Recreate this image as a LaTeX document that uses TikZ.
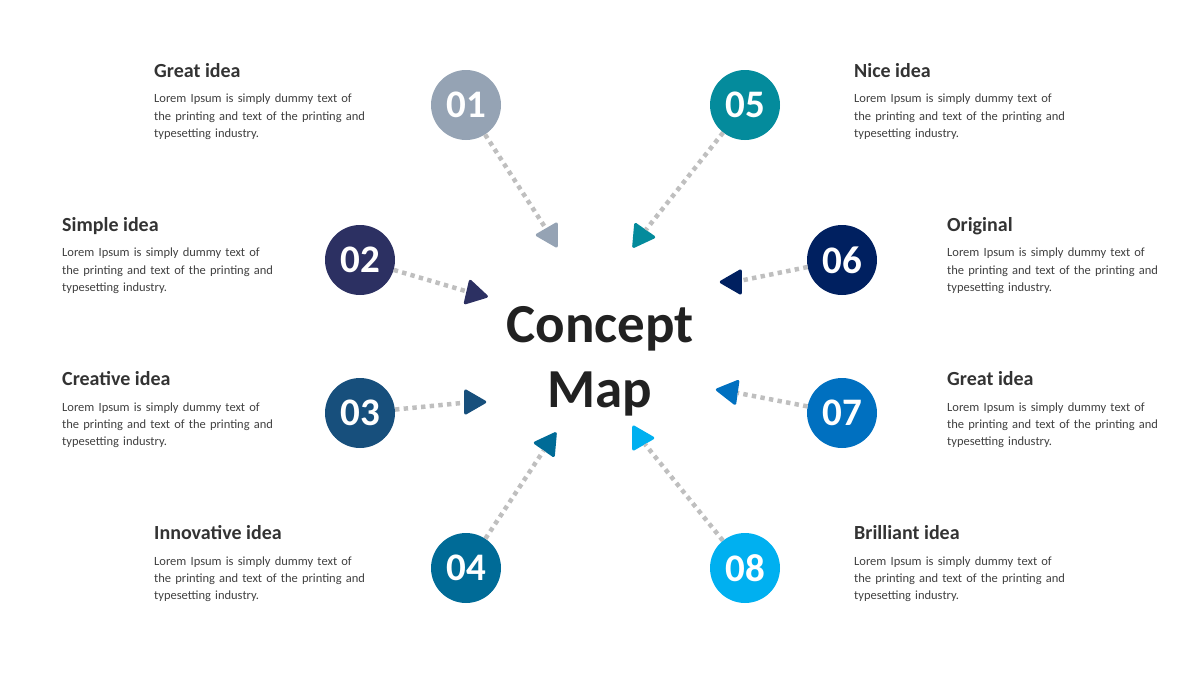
\documentclass[tikz,border=0pt]{standalone}
\usepackage{fontspec}
\setmainfont{Carlito}
\usepackage{xcolor}
\usepackage{tikz}
\usetikzlibrary{positioning, shapes.geometric}
\definecolor{ideaA}{HTML}{95A3B4}
\definecolor{ideaB}{HTML}{2C3062}
\definecolor{ideaC}{HTML}{174F7C}
\definecolor{ideaD}{HTML}{006B97}
\definecolor{ideaE}{HTML}{048B9C}
\definecolor{ideaF}{HTML}{002060}
\definecolor{ideaG}{HTML}{0070C0}
\definecolor{ideaH}{HTML}{00B0F0}
\definecolor{dotgray}{HTML}{BFBFBF}
\definecolor{headtext}{HTML}{333333}
\definecolor{bodytext}{HTML}{404040}
\newcommand{\ideatext}{Lorem Ipsum is simply dummy text of\\the printing and text of the printing and\\typesetting industry.}

\begin{document}
\begin{tikzpicture}[
    x=1pt, y=-1pt,
    num/.style={circle, fill=#1, minimum size=70pt, inner sep=0pt, text=white, font=\fontsize{39}{40}\selectfont\bfseries},
    head/.style={regular polygon, regular polygon sides=3, fill=#1, draw=#1, line width=3pt, line join=round, minimum size=25.5pt, inner sep=0pt},
    title/.style={anchor=base west, inner sep=0pt, text=headtext, font=\fontsize{20}{24}\selectfont\bfseries},
    body/.style={inner sep=0pt, text=bodytext, text width=260pt, align=left, font=\fontsize{12.5}{17.3}\selectfont},
    link/.style={draw=dotgray, line width=4.5pt, dash pattern=on 4.4pt off 4.3pt}
]
    \useasboundingbox (0,0) rectangle (1200,675);

    % centre text
    \node[inner sep=0pt, text width=300pt, align=center, anchor=base, text=black!87, font=\fontsize{55}{65}\selectfont\bfseries] (concept) at (600,342) {Concept\\Map};

    % numbered circles
    \node[num=ideaA] (c1) at (466,105) {01};
    \node[num=ideaB] (c2) at (360,260) {02};
    \node[num=ideaC] (c3) at (360,413) {03};
    \node[num=ideaD] (c4) at (466,568) {04};
    \node[num=ideaE] (c5) at (745,105) {05};
    \node[num=ideaF] (c6) at (842,260) {06};
    \node[num=ideaG] (c7) at (842,413) {07};
    \node[num=ideaH] (c8) at (745,568) {08};

    % arrow heads
    \node[head=ideaA, rotate=90] (h1) at (550,235) {};
    \node[head=ideaB, rotate=-103] (h2) at (474,293.5) {};
    \node[head=ideaC, rotate=-90] (h3) at (472,402) {};
    \node[head=ideaD, rotate=85] (h4) at (548,444) {};
    \node[head=ideaE, rotate=-95] (h5) at (641,236) {};
    \node[head=ideaF, rotate=90] (h6) at (734,282) {};
    \node[head=ideaG, rotate=82] (h7) at (730,391.5) {};
    \node[head=ideaH, rotate=-90] (h8) at (640,438) {};

    \draw[link] (c1) -- (h1);
    \draw[link] (c2) -- (h2);
    \draw[link] (c3) -- (h3);
    \draw[link] (c4) -- (h4);
    \draw[link] (c5) -- (h5);
    \draw[link] (c6) -- (h6);
    \draw[link] (c7) -- (h7);
    \draw[link] (c8) -- (h8);

    % labels
    \node[title] (t1) at (154,77) {Great idea};
    \node[body, below=25.7pt of t1.base west, anchor=base west] (b1) {\ideatext};
    \node[title] (t2) at (62,231) {Simple idea};
    \node[body, below=25.7pt of t2.base west, anchor=base west] (b2) {\ideatext};
    \node[title] (t3) at (62,385.5) {Creative idea};
    \node[body, below=25.7pt of t3.base west, anchor=base west] (b3) {\ideatext};
    \node[title] (t4) at (154,539.5) {Innovative idea};
    \node[body, below=25.7pt of t4.base west, anchor=base west] (b4) {\ideatext};

    \node[title] (t5) at (854,77) {Nice idea};
    \node[body, below=25.7pt of t5.base west, anchor=base west] (b5) {\ideatext};
    \node[title] (t6) at (947,231) {Original};
    \node[body, below=25.7pt of t6.base west, anchor=base west] (b6) {\ideatext};
    \node[title] (t7) at (947,385.5) {Great idea};
    \node[body, below=25.7pt of t7.base west, anchor=base west] (b7) {\ideatext};
    \node[title] (t8) at (854,539.5) {Brilliant idea};
    \node[body, below=25.7pt of t8.base west, anchor=base west] (b8) {\ideatext};
\end{tikzpicture}
\end{document}
